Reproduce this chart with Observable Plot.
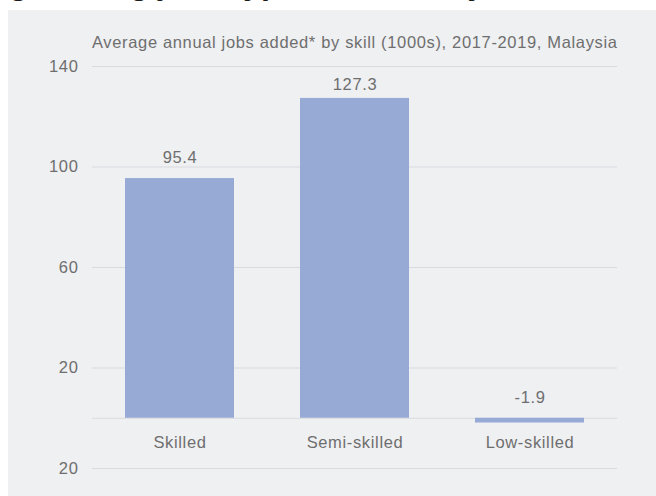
<!DOCTYPE html>
<html>
<head>
<meta charset="utf-8">
<script src="https://cdn.jsdelivr.net/npm/d3@7"></script>
<script src="https://cdn.jsdelivr.net/npm/@observablehq/plot@0.6"></script>
<style>
  html, body { margin: 0; padding: 0; background: #ffffff; width: 656px; height: 496px; overflow: hidden; position: relative; }
  #title { position: absolute; left: -20px; top: -33px; font: bold 32px "Liberation Sans", Arial, sans-serif; line-height: 32px; color: #1a1a1a; white-space: nowrap; }
  #panel { position: absolute; left: 8px; top: 10px; width: 648px; height: 486px; background: #eff0f2; }
  #subtitle { position: absolute; left: 84px; top: 22px; font: 16.5px "Liberation Sans", Arial, sans-serif; letter-spacing: 0.65px; line-height: 20px; color: #6e6e6e; white-space: nowrap; }
  #chart { position: absolute; left: 0; top: 0; }
</style>
</head>
<body>
<div id="title"></div>
<div id="panel">
  <div id="chart"></div>
  <div id="subtitle"></div>
</div>
<script>
const titleText = "ing leading jobs types are mostly skilled";
const subtitleText = "Average annual jobs added* by skill (1000s), 2017-2019, Malaysia";
const categories = ["Skilled", "Semi-skilled", "Low-skilled"];
const jobsAdded = [95.4, 127.3, -1.9];
const valueLabels = ["95.4", "127.3", "-1.9"];
const yTicks = [-20, 20, 60, 100, 140];
const yTickLabels = ["20", "20", "60", "100", "140"];

document.getElementById("title").textContent = titleText;
document.getElementById("subtitle").textContent = subtitleText;

const data = categories.map((c, i) => ({category: c, value: jobsAdded[i], label: valueLabels[i]}));

const textColor = "#6e6e6e";
const barColor = "#97aad6";
const gridColor = "#d9dadd";

const chart = Plot.plot({
  width: 648,
  height: 486,
  marginTop: 56,
  marginBottom: 28,
  marginLeft: 84,
  marginRight: 39,
  style: {
    fontFamily: "'Liberation Sans', Arial, sans-serif",
    fontSize: "16.5px",
    letterSpacing: "0.65px",
    color: textColor,
    background: "transparent",
    overflow: "visible"
  },
  x: {domain: categories, paddingInner: 0.38, paddingOuter: 0.19, axis: null},
  y: {domain: [-20, 140], axis: null},
  marks: [
    Plot.ruleY(yTicks.concat([0]), {stroke: gridColor, strokeWidth: 1.2}),
    Plot.axisY({
      ticks: yTicks,
      tickSize: 0,
      tickPadding: 14,
      tickFormat: d => yTickLabels[yTicks.indexOf(d)],
      label: null,
      fill: textColor,
      fontSize: 16.5
    }),
    Plot.barY(data, {x: "category", y: "value", fill: barColor}),
    Plot.text(data.filter(d => d.value < 110), {
      x: "category", y: d => Math.max(d.value, 0), text: "label",
      dy: -21, fill: textColor, fontSize: 16.5
    }),
    Plot.text(data.filter(d => d.value >= 110), {
      x: "category", y: "value", text: "label",
      dy: -14, fill: textColor, fontSize: 16.5
    }),
    Plot.text(data, {
      x: "category", y: () => 0, text: "category",
      dy: 24, fill: textColor, fontSize: 16.5
    })
  ]
});
document.getElementById("chart").appendChild(chart);
</script>
</body>
</html>
